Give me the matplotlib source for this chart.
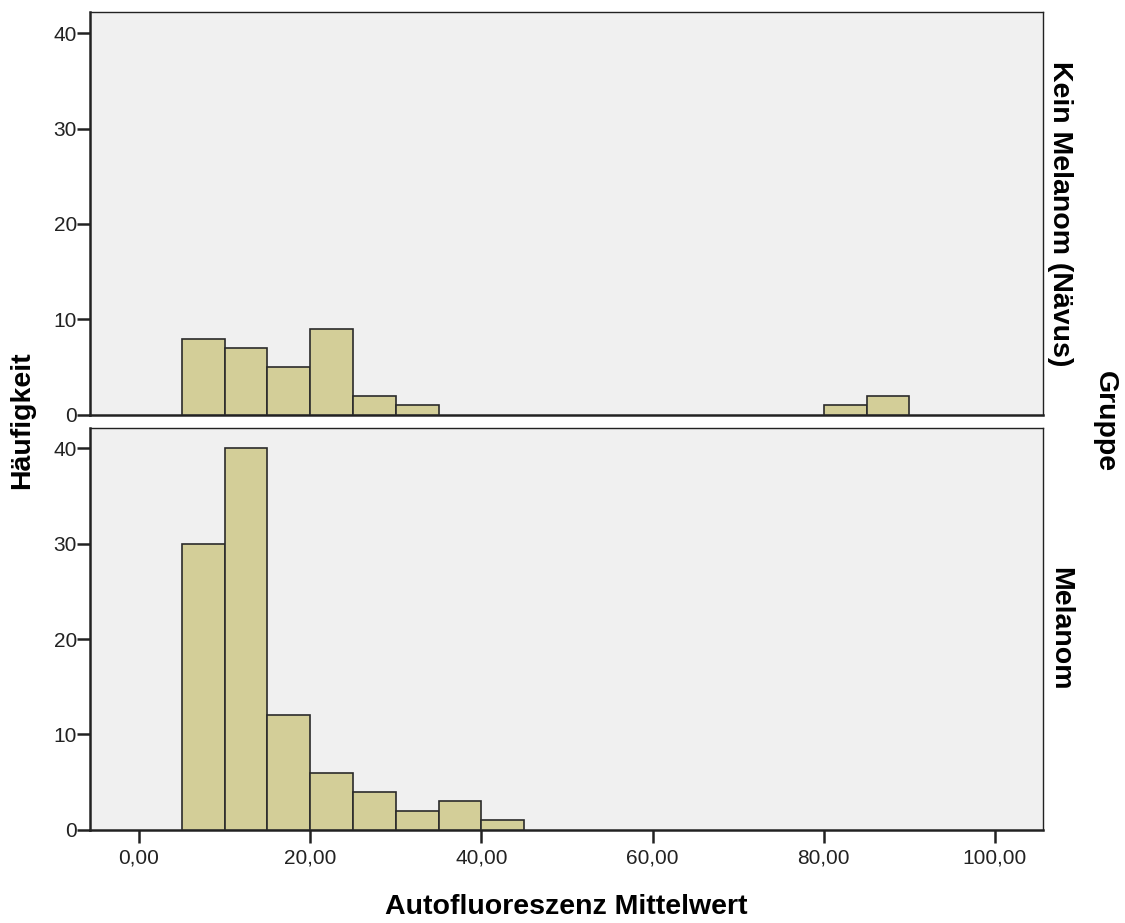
import matplotlib.pyplot as plt
from matplotlib.ticker import FuncFormatter

plt.rcParams['font.family'] = ['Liberation Sans', 'DejaVu Sans']

# bin left edges (width 5) and counts per group
binStarts = [5, 10, 15, 20, 25, 30, 35, 40, 80, 85]
countsNaevus = [8, 7, 5, 9, 2, 1, 0, 0, 1, 2]
countsMelanom = [30, 40, 12, 6, 4, 2, 3, 1, 0, 0]
groupLabels = ['Kein Melanom (Nävus)', 'Melanom']
xTicks = [0, 20, 40, 60, 80, 100]
yTicks = [0, 10, 20, 30, 40]

barColour = '#d3ce98'
edgeColour = '#2b2b2b'
bgColour = '#f0f0f0'

fig = plt.figure(figsize=(11.25, 9.23), dpi=100)
axTop = fig.add_axes([0.080, 0.5504, 0.847, 0.4366])
axBot = fig.add_axes([0.080, 0.1008, 0.847, 0.4355])

for ax, counts, label in [(axTop, countsNaevus, groupLabels[0]), (axBot, countsMelanom, groupLabels[1])]:
    xs = [b for b, c in zip(binStarts, counts) if c > 0]
    hs = [c for c in counts if c > 0]
    ax.bar(xs, hs, width=5, align='edge', color=barColour, edgecolor=edgeColour, linewidth=1.2, zorder=3)
    ax.set_facecolor(bgColour)
    ax.set_xlim(-5.72, 105.6)
    ax.set_yticks(yTicks)
    ax.tick_params(axis='y', direction='out', length=9.5, width=1.8, labelsize=15, pad=0, colors='#222222')
    ax.tick_params(axis='x', direction='out', length=9.5, width=1.8, labelsize=15, pad=4, colors='#222222')
    for s in ax.spines.values():
        s.set_color('#222222')
        s.set_linewidth(1.0)
    ax.spines['left'].set_linewidth(1.8)
    ax.spines['bottom'].set_linewidth(1.8)
    ax.text(1.018, 0.5, label, transform=ax.transAxes, rotation=-90, ha='center', va='center',
            fontsize=20.5, fontweight='bold')

axTop.set_ylim(0, 42.2)
axBot.set_ylim(0, 42.1)
axTop.set_xticks([])
axBot.set_xticks(xTicks)
axBot.xaxis.set_major_formatter(FuncFormatter(lambda v, p: ('%.2f' % v).replace('.', ',')))

fig.text(0.5035, 0.0173, 'Autofluoreszenz Mittelwert', ha='center', va='center', fontsize=20.5, fontweight='bold')
fig.text(0.0196, 0.545, 'Häufigkeit', rotation=90, ha='center', va='center', fontsize=20.5, fontweight='bold')
fig.text(0.982, 0.543, 'Gruppe', rotation=-90, ha='center', va='center', fontsize=20.5, fontweight='bold')

fig.savefig('out.png', dpi=100, facecolor='white')
